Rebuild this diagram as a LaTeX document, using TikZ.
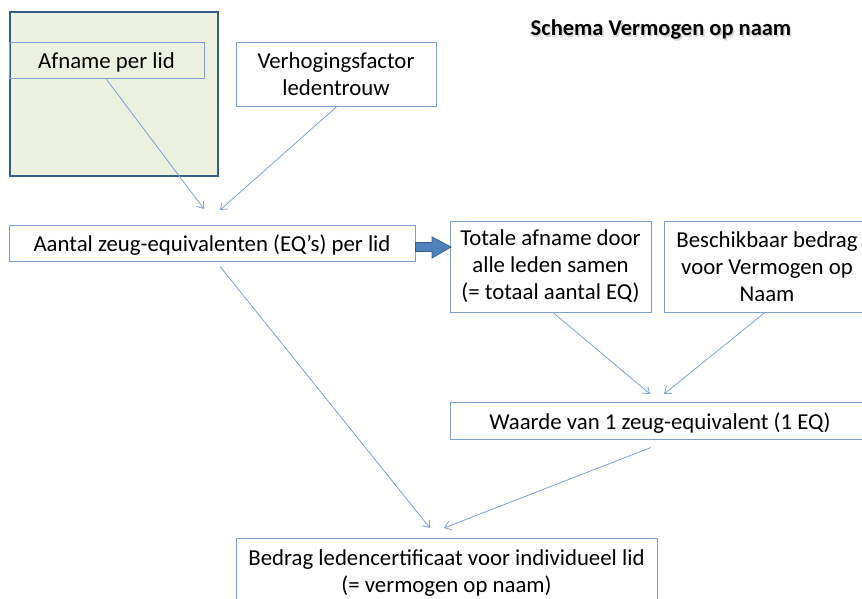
\documentclass[tikz,border=0pt]{standalone}
\usepackage{fontspec}
\setmainfont{Carlito}
\usetikzlibrary{arrows.meta}
\definecolor{boxline}{HTML}{7F9FD3}
\definecolor{darkline}{HTML}{385D8A}
\definecolor{greenfill}{HTML}{EBF1DE}
\definecolor{arrfill}{HTML}{4F81BD}
\newcommand{\lowtxt}[1]{\raisebox{-2.5pt}[\height][\depth]{#1}}
\tikzset{
  box/.style={draw=boxline, line width=0.9pt, inner sep=0pt, font=\fontsize{22.8}{27}\selectfont, align=center},
  conn/.style={draw=boxline, line width=0.8pt, -{Straight Barb[length=6pt,width=9pt]}},
}
\begin{document}
\begin{tikzpicture}[x=1pt,y=-1pt]
\useasboundingbox (0,0) rectangle (862,599);
% green frame
\node[draw=darkline, line width=2.5pt, fill=greenfill, minimum width=208pt, minimum height=164pt, inner sep=0pt] (frame) at (114,94) {};
% boxes
\node[box, minimum width=195pt, minimum height=36pt] (afname) at (106.5,60) {\lowtxt{Afname per lid}};
\node[box, fill=white, minimum width=200pt, minimum height=64pt] (verh) at (336,74) {Verhogingsfactor\\ledentrouw};
\node[box, fill=white, minimum width=406pt, minimum height=36pt] (aantal) at (212,243) {\lowtxt{Aantal zeug-equivalenten (EQ’s) per lid}};
\node[box, fill=white, minimum width=201pt, minimum height=91pt] (totale) at (550.5,266.5) {Totale afname door\\alle leden samen\\(= totaal aantal EQ)};
\node[box, fill=white, minimum width=206pt, minimum height=91pt] (besch) at (767,266.5) {Beschikbaar bedrag\\voor Vermogen op\\Naam};
\node[box, fill=white, minimum width=420pt, minimum height=37pt] (waarde) at (660,420.5) {\lowtxt{Waarde van 1 zeug-equivalent (1 EQ)}};
\node[box, fill=white, minimum width=421pt, minimum height=70pt] (bedrag) at (446.5,573) {Bedrag ledencertificaat voor individueel lid\\(= vermogen op naam)};
% title
\node[font=\fontsize{22.5}{26}\selectfont\bfseries, text=black!30, opacity=0.5] at (662.5,31.5) {Schema Vermogen op naam};
\node[font=\fontsize{22.5}{26}\selectfont\bfseries] (title) at (661,30) {Schema Vermogen op naam};
% connector endpoints
\coordinate (a1) at (204,209);
\coordinate (a2) at (220,210);
\coordinate (a3) at (430,528);
\coordinate (a4) at (444,528);
\coordinate (w1) at (650,394);
\coordinate (w2) at (664,394);
\draw[conn] (afname.south) ++(0,1) -- (a1);
\draw[conn] (verh.south) ++(1,0) -- (a2);
\draw[conn] ([xshift=8pt]aantal.south) ++(0,5) -- (a3);
\draw[conn] ([xshift=2.5pt]totale.south) -- (w1);
\draw[conn] ([xshift=-2pt]besch.south) -- (w2);
\draw[conn] ([xshift=-9pt]waarde.south) ++(0,8) -- (a4);
% block arrow
\draw[draw=darkline, fill=arrfill, line width=0.8pt]
  (aantal.east |- 0,242.5) -- (432,242.5) -- (432,237) -- (451,247) -- (432,258) -- (432,251.5) -- (aantal.east |- 0,251.5) -- cycle;
\end{tikzpicture}
\end{document}
